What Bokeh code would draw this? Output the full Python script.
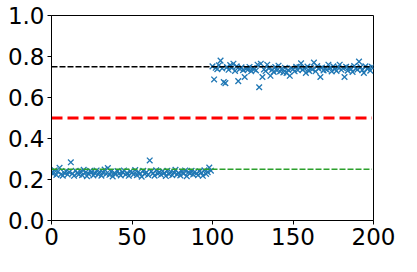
from bokeh.plotting import figure
from bokeh.models import Range1d, FixedTicker, ColumnDataSource, CustomJSTickFormatter
from bokeh.embed import file_html
from bokeh.resources import INLINE

# ---- data ----
low_values = [
    0.235, 0.228, 0.245, 0.222, 0.238, 0.257, 0.226, 0.219, 0.232, 0.241,
    0.224, 0.236, 0.284, 0.229, 0.218, 0.243, 0.231, 0.225, 0.239, 0.221,
    0.247, 0.233, 0.216, 0.228, 0.242, 0.236, 0.220, 0.230, 0.244, 0.225,
    0.237, 0.219, 0.234, 0.248, 0.227, 0.256, 0.223, 0.238, 0.215, 0.232,
    0.226, 0.241, 0.229, 0.220, 0.236, 0.244, 0.224, 0.231, 0.218, 0.239,
    0.233, 0.225, 0.246, 0.221, 0.237, 0.229, 0.214, 0.242, 0.227, 0.235,
    0.222, 0.293, 0.240, 0.230, 0.219, 0.245, 0.228, 0.236, 0.223, 0.240,
    0.232, 0.217, 0.243, 0.226, 0.238, 0.221, 0.234, 0.247, 0.225, 0.231,
    0.220, 0.239, 0.228, 0.244, 0.216, 0.235, 0.230, 0.242, 0.224, 0.237,
    0.229, 0.221, 0.240, 0.233, 0.218, 0.245, 0.227, 0.236, 0.258, 0.243,
]
high_values = [
    0.752, 0.688, 0.745, 0.738, 0.757, 0.780, 0.742, 0.675, 0.670, 0.748,
    0.735, 0.758, 0.744, 0.765, 0.730, 0.752, 0.680, 0.739, 0.747, 0.733,
    0.700, 0.741, 0.736, 0.749, 0.728, 0.744, 0.738, 0.732, 0.760, 0.650,
    0.765, 0.700, 0.737, 0.729, 0.760, 0.742, 0.706, 0.735, 0.725, 0.748,
    0.732, 0.755, 0.727, 0.740, 0.722, 0.745, 0.720, 0.734, 0.706, 0.743,
    0.738, 0.728, 0.750, 0.733, 0.747, 0.767, 0.736, 0.742, 0.720, 0.751,
    0.730, 0.745, 0.737, 0.770, 0.728, 0.753, 0.740, 0.700, 0.746, 0.732,
    0.741, 0.735, 0.760, 0.744, 0.727, 0.752, 0.738, 0.730, 0.748, 0.760,
    0.735, 0.743, 0.700, 0.750, 0.731, 0.746, 0.738, 0.725, 0.754, 0.742,
    0.736, 0.775, 0.748, 0.733, 0.720, 0.752, 0.740, 0.745, 0.731, 0.750,
]
y_values = low_values + high_values
x_values = list(range(len(y_values)))

line_levels = [0.75, 0.5, 0.25]
line_colors = ["black", "#ff0000", "#2ca02c"]
line_widths = [1.5, 3, 1.5]
line_dashes = ["6 2", "11 5", "6 2"]
line_start = 0
line_end = 199

x_ticks = [0, 50, 100, 150, 200]
y_ticks = [0.0, 0.2, 0.4, 0.6, 0.8, 1.0]

FONT = "DejaVu Sans"

p = figure(width=401, height=256, output_backend="svg", toolbar_location=None,
           x_range=Range1d(0, 200), y_range=Range1d(0, 1),
           min_border_left=51, min_border_right=28, min_border_top=15, min_border_bottom=36)
p.background_fill_color = "white"
p.border_fill_color = "white"
p.outline_line_color = "black"
p.outline_line_width = 1
p.xgrid.visible = False
p.ygrid.visible = False

for ax in (p.xaxis[0], p.yaxis[0]):
    ax.major_label_text_font = FONT
    ax.major_label_text_font_size = "23px"
    ax.major_label_text_color = "black"
    ax.axis_line_color = "black"
    ax.major_tick_line_color = "black"
    ax.major_tick_out = 4
    ax.major_tick_in = 0
    ax.minor_tick_line_color = None
    ax.major_label_standoff = 3

p.xaxis[0].ticker = FixedTicker(ticks=x_ticks)
p.yaxis[0].ticker = FixedTicker(ticks=y_ticks)
p.yaxis[0].formatter = CustomJSTickFormatter(code="return tick.toFixed(1);")

src = ColumnDataSource(dict(x=x_values, y=y_values))
p.scatter("x", "y", source=src, marker="x", size=8, line_color="#1f77b4", line_width=1.3)

for lvl, c, w, d in zip(line_levels, line_colors, line_widths, line_dashes):
    p.line([line_start, line_end], [lvl, lvl], line_color=c, line_width=w, line_dash=d)

open("out.html", "w").write(file_html(p, INLINE))
